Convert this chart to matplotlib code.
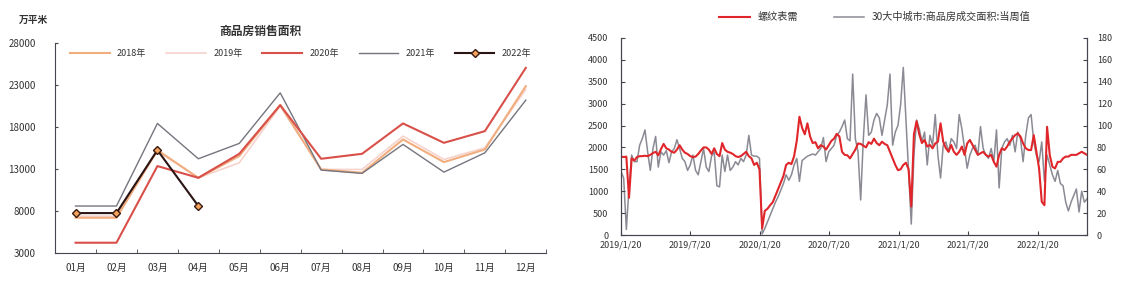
import matplotlib
matplotlib.use("Agg")
import matplotlib.pyplot as plt
import matplotlib.dates as mdates
import pandas as pd

plt.rcParams['font.family'] = ['Noto Sans CJK SC', 'DejaVu Sans']

# left chart: monthly sales area (万平米)
months = ['01月', '02月', '03月', '04月', '05月', '06月', '07月', '08月', '09月', '10月', '11月', '12月']
s2018 = [7200, 7200, 15260, 11960, 14550, 20620, 12960, 12560, 16530, 13830, 15340, 22880]
s2019 = [7400, 7400, 15140, 11960, 13750, 20500, 12960, 12960, 16930, 14150, 15540, 22480]
s2020 = [4230, 4230, 13360, 11960, 14820, 20620, 14230, 14820, 18440, 16130, 17520, 25060]
s2021 = [8600, 8600, 18440, 14230, 16060, 22080, 12880, 12490, 15940, 12640, 14940, 21210]
s2022 = [7760, 7760, 15260, 8600]

# right chart: weekly series starting 2019/1/20
week_start = '2019-01-20'
rebar = [1790, 1780, 1790, 850, 1750, 1700, 1780, 1800, 1800, 1810,
         1800, 1830, 1870, 1900, 1820, 1960, 2080, 1980, 1950, 1900,
         1880, 1950, 2050, 1950, 1880, 1850, 1800, 1780, 1790, 1850,
         1930, 2000, 2000, 1950, 1850, 1980, 1850, 1800, 2100, 1950,
         1900, 1880, 1850, 1800, 1780, 1800, 1850, 1900, 1800, 1750,
         1600, 1650, 1500, 150, 550, 600, 680, 750, 900, 1050,
         1200, 1350, 1600, 1650, 1620, 1800, 2150, 2700, 2450, 2300,
         2550, 2250, 2100, 2120, 1980, 2050, 2020, 1950, 2050, 2150,
         2200, 2310, 2250, 1900, 1830, 1820, 1750, 1850, 1950, 2090,
         2080, 2040, 2000, 2120, 2080, 2200, 2100, 2050, 2130, 2080,
         2050, 1900, 1750, 1600, 1480, 1500, 1600, 1650, 1500, 650,
         2300, 2600, 2300, 2100, 2170, 2020, 2055, 1980, 2090, 2130,
         2550, 2130, 1980, 1900, 2055, 1900, 1830, 1900, 2020, 1830,
         2090, 2170, 2055, 1940, 1830, 1865, 1900, 1830, 1790, 1830,
         1670, 1560, 1830, 1980, 1940, 2020, 2130, 2210, 2280, 2320,
         2250, 2090, 1980, 1940, 1940, 2280, 1900, 1520, 760, 680,
         2470, 1830, 1560, 1520, 1670, 1670, 1750, 1790, 1790, 1830,
         1830, 1830, 1865, 1900, 1865, 1830]
city30 = [58, 52, 5, 43, 73, 67, 67, 82, 88, 96,
          76, 59, 79, 90, 62, 76, 73, 77, 66, 76,
          79, 87, 79, 70, 67, 59, 64, 73, 59, 55,
          67, 79, 62, 58, 72, 76, 45, 44, 73, 58,
          73, 59, 62, 67, 64, 70, 67, 73, 91, 73,
          72, 72, 70, 1, 6, 12, 18, 24, 30, 35,
          41, 47, 55, 50, 55, 64, 70, 49, 68, 70,
          72, 73, 74, 73, 76, 79, 89, 67, 76, 79,
          82, 91, 94, 99, 105, 88, 86, 147, 88, 76,
          32, 88, 128, 91, 94, 105, 111, 107, 91, 105,
          119, 147, 82, 94, 100, 119, 153, 105, 58, 10,
          73, 105, 97, 85, 94, 64, 91, 82, 110, 73,
          52, 82, 85, 76, 88, 85, 79, 110, 97, 79,
          61, 73, 79, 82, 73, 99, 79, 73, 70, 79,
          67, 96, 43, 79, 85, 88, 82, 91, 76, 94,
          88, 67, 91, 107, 110, 85, 73, 67, 85, 49,
          73, 64, 55, 49, 59, 47, 45, 30, 22, 30,
          36, 42, 21, 40, 30, 33]
date_ticks = ['2019-01-20', '2019-07-20', '2020-01-20', '2020-07-20',
              '2021-01-20', '2021-07-20', '2022-01-20']
date_labels = ['2019/1/20', '2019/7/20', '2020/1/20', '2020/7/20',
               '2021/1/20', '2021/7/20', '2022/1/20']

spine_c = '#45454f'
text_c = '#333333'

fig = plt.figure(figsize=(11.24, 2.84), dpi=100)

# ---- left chart ----
ax1 = fig.add_axes([0.049, 0.109, 0.437, 0.739])
x = list(range(len(months)))
ax1.plot(x, s2019, color='#f6d3cc', lw=1.2, label='2019年', zorder=2)
ax1.plot(x, s2018, color='#f2ad7e', lw=1.5, label='2018年', zorder=3)
ax1.plot(x, s2021, color='#75757f', lw=1.0, label='2021年', zorder=3)
ax1.plot(x, s2020, color='#d9504a', lw=1.5, label='2020年', zorder=4)
ax1.plot(x[:len(s2022)], s2022, color='#2a1414', lw=1.5, marker='D', ms=4.5,
         mfc='#f5a35a', mec='#3a1a10', mew=1, label='2022年', zorder=5)

ax1.set_xlim(-0.5, 11.5)
ax1.set_ylim(3000, 28000)
ax1.set_yticks(range(3000, 28001, 5000))
ax1.set_xticks(x)
ax1.set_xticklabels(months)
ax1.set_xticks([i - 0.5 for i in range(13)], minor=True)
ax1.tick_params(axis='x', which='major', length=0, pad=7, labelsize=7, colors=text_c)
ax1.tick_params(axis='x', which='minor', length=3, direction='in', color=spine_c)
ax1.tick_params(axis='y', length=2, direction='in', pad=14, labelsize=7, colors=text_c, color=spine_c)
for s in ['top', 'right']:
    ax1.spines[s].set_visible(False)
for s in ['left', 'bottom']:
    ax1.spines[s].set_color(spine_c)

h, l = ax1.get_legend_handles_labels()
order = [l.index(k) for k in ['2018年', '2019年', '2020年', '2021年', '2022年']]
ax1.legend([h[i] for i in order], [l[i] for i in order], loc='upper center',
           bbox_to_anchor=(0.5, 1.01), ncol=5, frameon=False, fontsize=6.5,
           handlelength=4.4, columnspacing=2.2, labelcolor=text_c)

fig.text(260 / 1124, 1 - 31 / 284, '商品房销售面积', ha='center', va='center',
         fontsize=8.5, fontweight='bold', color=text_c)
fig.text(33 / 1124, 1 - 20 / 284, '万平米', ha='center', va='center',
         fontsize=7, fontweight='bold', color=text_c)

# ---- right chart ----
dates = pd.date_range(week_start, periods=len(rebar), freq='7D')
ax2 = fig.add_axes([0.5525, 0.1725, 0.4146, 0.694])
ax3 = ax2.twinx()
l3, = ax3.plot(dates, city30, color='#8a8a94', lw=1.1, label='30大中城市:商品房成交面积:当周值')
l2, = ax2.plot(dates, rebar, color='#e0262a', lw=1.5, label='螺纹表需')
ax2.set_zorder(ax3.get_zorder() + 1)
ax2.patch.set_visible(False)

ax2.set_xlim(dates[0], dates[-1])
ax2.set_ylim(0, 4500)
ax3.set_ylim(0, 180)
ax2.set_yticks(range(0, 4501, 500))
ax3.set_yticks(range(0, 181, 20))
ax2.set_xticks(mdates.date2num(pd.to_datetime(date_ticks)))
ax2.set_xticklabels(date_labels)
ax2.tick_params(axis='x', length=3, direction='in', pad=4, labelsize=6.5, colors=text_c, color=spine_c)
ax2.tick_params(axis='y', length=3, direction='in', pad=9, labelsize=6.5, colors=text_c, color=spine_c)
ax3.tick_params(axis='y', length=3, direction='in', pad=7, labelsize=6.5, colors=text_c, color=spine_c)
for a in [ax2, ax3]:
    a.spines['top'].set_visible(False)
    for s in ['left', 'right', 'bottom']:
        a.spines[s].set_color(spine_c)

fig.legend([l2, l3], ['螺纹表需', '30大中城市:商品房成交面积:当周值'], loc='center',
           bbox_to_anchor=(875 / 1124, 1 - 17 / 284), ncol=2, frameon=False,
           fontsize=7.3, handlelength=3.0, columnspacing=3.5, labelcolor=text_c)

plt.savefig('out.png', dpi=100)
